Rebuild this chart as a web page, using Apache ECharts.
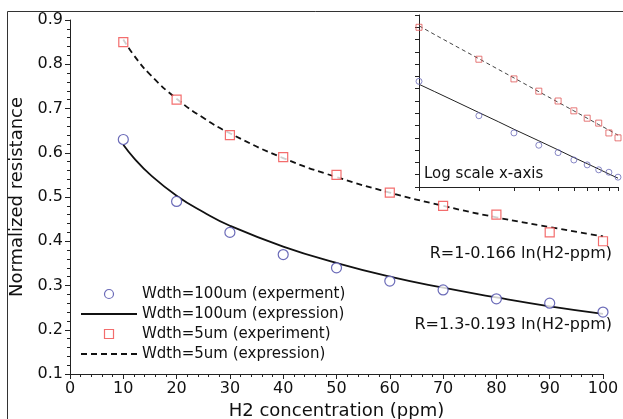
<!DOCTYPE html>
<html>
<head>
<meta charset="utf-8">
<title>Normalized resistance</title>
<script src="https://cdn.jsdelivr.net/npm/echarts@6/dist/echarts.min.js"></script>
<style>
  html, body { margin: 0; padding: 0; background: #fff; }
  #main { width: 623px; height: 419px; }
</style>
</head>
<body>
<div id="main"></div>
<script>
// measured points
var ppm = [10, 20, 30, 40, 50, 60, 70, 80, 90, 100];
var wide100 = [0.63, 0.49, 0.42, 0.37, 0.34, 0.31, 0.29, 0.27, 0.26, 0.24];
var narrow5 = [0.85, 0.72, 0.64, 0.59, 0.55, 0.51, 0.48, 0.46, 0.42, 0.40];
// fitted curves
var fitX = [10, 12, 15, 20, 25, 30, 40, 50, 60, 70, 80, 90, 100];
var fit100 = [0.618, 0.588, 0.551, 0.503, 0.466, 0.435, 0.388, 0.351, 0.320, 0.295, 0.273, 0.253, 0.236];
var fit5 = [0.856, 0.820, 0.777, 0.722, 0.679, 0.644, 0.588, 0.545, 0.510, 0.480, 0.454, 0.432, 0.411];
var insetTicks = [10, 20, 30, 40, 50, 60, 70, 80, 90, 100];

var names = ['Wdth=100um (experment)', 'Wdth=100um (expression)',
             'Wdth=5um (experiment)', 'Wdth=5um (expression)'];

function pairs(xs, ys) {
  var out = [];
  for (var i = 0; i < xs.length; i++) out.push([xs[i], ys[i]]);
  return out;
}

var font = 'DejaVu Sans';
var axisCol = '#222';
var blue = '#4646a6';
var red = '#f04848';

// legend icons: a solid bar and a dashed bar, 56 wide
var solidIcon = 'path://M0,0h56v2h-56z';
var dashIcon = 'path://M0,0h6v2h-6z M10,0h6v2h-6z M20,0h6v2h-6z M30,0h6v2h-6z M40,0h6v2h-6z M50,0h6v2h-6z';

var chart = echarts.init(document.getElementById('main'));

var option = {
  animation: false,
  textStyle: { fontFamily: font },
  grid: [
    { left: 70, right: 20, top: 20, bottom: 45, outerBoundsMode: 'none' },
    { left: 419, top: 15, width: 199, height: 172, outerBoundsMode: 'none' }
  ],
  xAxis: [{
    gridIndex: 0, type: 'value', min: 0, max: 100, interval: 10,
    name: 'H2 concentration (ppm)', nameLocation: 'middle', nameGap: 25,
    nameTextStyle: { fontSize: 18, color: '#111', fontFamily: font },
    axisLine: { lineStyle: { color: axisCol } },
    axisTick: { length: 5, lineStyle: { color: axisCol } },
    minorTick: { show: true, splitNumber: 5, length: 3, lineStyle: { color: axisCol } },
    axisLabel: { fontSize: 16, color: '#111', margin: 7, fontFamily: font },
    splitLine: { show: false }
  }, {
    gridIndex: 1, type: 'log', logBase: 10, min: 10, max: 100,
    axisLine: { onZero: false, lineStyle: { color: axisCol } },
    axisTick: { length: 4, customValues: insetTicks, lineStyle: { color: axisCol } },
    axisLabel: { show: false },
    splitLine: { show: false }
  }],
  yAxis: [{
    gridIndex: 0, type: 'value', min: 0.1, max: 0.9, interval: 0.1,
    name: 'Normalized resistance', nameLocation: 'middle', nameGap: 38,
    nameTextStyle: { fontSize: 18, color: '#111', fontFamily: font },
    axisLine: { show: true, lineStyle: { color: axisCol } },
    axisTick: { show: true, length: 5, lineStyle: { color: axisCol } },
    minorTick: { show: true, splitNumber: 5, length: 3, lineStyle: { color: axisCol } },
    axisLabel: { fontSize: 16, color: '#111', margin: 7, fontFamily: font,
                 formatter: function (v) { return v.toFixed(1); } },
    splitLine: { show: false }
  }, {
    gridIndex: 1, type: 'value', min: 0.2, max: 0.9, interval: 0.05,
    axisLine: { show: true, onZero: false, lineStyle: { color: axisCol } },
    axisTick: { show: true, length: 4, lineStyle: { color: axisCol } },
    axisLabel: { show: false },
    splitLine: { show: false }
  }],
  legend: {
    data: [
      { name: names[0], icon: 'circle',
        itemStyle: { color: '#fff', borderColor: blue, borderWidth: 1.2 } },
      { name: names[1], icon: solidIcon,
        itemStyle: { color: '#111', borderWidth: 0 } },
      { name: names[2], icon: 'path://M0,0h10v10h-10z',
        itemStyle: { color: '#fff', borderColor: red, borderWidth: 1.2 } },
      { name: names[3], icon: dashIcon,
        itemStyle: { color: '#111', borderWidth: 0 } }
    ],
    orient: 'vertical',
    left: 76, top: 281,
    itemWidth: 56, itemHeight: 9, itemGap: 4,
    symbolKeepAspect: true,
    textStyle: { fontSize: 15, lineHeight: 16, color: '#111', fontFamily: font },
    inactiveColor: '#999'
  },
  graphic: [
    { type: 'rect', silent: true, z: 100,
      shape: { x: 7.5, y: 11.5, width: 700, height: 500 },
      style: { fill: 'none', stroke: '#333', lineWidth: 1 } },
    { type: 'text', left: 424, top: 167, z: 100,
      style: { text: 'Log scale x-axis', font: '15px "DejaVu Sans"', fill: '#111' } },
    { type: 'text', right: 11, top: 246, z: 100,
      style: { text: 'R=1-0.166 ln(H2-ppm)', font: '16px "DejaVu Sans"', fill: '#111' } },
    { type: 'text', right: 11, top: 317, z: 100,
      style: { text: 'R=1.3-0.193 ln(H2-ppm)', font: '16px "DejaVu Sans"', fill: '#111' } }
  ],
  series: [
    { name: names[0], type: 'scatter', xAxisIndex: 0, yAxisIndex: 0,
      data: pairs(ppm, wide100), symbol: 'circle', symbolSize: 10, z: 5,
      itemStyle: { color: '#fff', borderColor: blue, borderWidth: 1.2 } },
    { name: names[1], type: 'line', xAxisIndex: 0, yAxisIndex: 0,
      data: pairs(fitX, fit100), smooth: true, symbol: 'none',
      lineStyle: { color: '#111', width: 1.8 }, itemStyle: { color: '#111' } },
    { name: names[2], type: 'scatter', xAxisIndex: 0, yAxisIndex: 0,
      data: pairs(ppm, narrow5), symbol: 'rect', symbolSize: 9, z: 5,
      itemStyle: { color: '#fff', borderColor: red, borderWidth: 1.2 } },
    { name: names[3], type: 'line', xAxisIndex: 0, yAxisIndex: 0,
      data: pairs(fitX, fit5), smooth: true, symbol: 'none',
      lineStyle: { color: '#111', width: 1.8, type: [6, 4] }, itemStyle: { color: '#111' } },

    // inset, log x
    { name: 'inset100', type: 'line', xAxisIndex: 1, yAxisIndex: 1,
      data: pairs(fitX, fit100), symbol: 'none',
      lineStyle: { color: '#222', width: 1 } },
    { name: 'inset5', type: 'line', xAxisIndex: 1, yAxisIndex: 1,
      data: pairs(fitX, fit5), symbol: 'none',
      lineStyle: { color: '#444', width: 1, type: [4, 3] } },
    { name: 'inset100pts', type: 'scatter', xAxisIndex: 1, yAxisIndex: 1,
      data: pairs(ppm, wide100), symbol: 'circle', symbolSize: 6, z: 5,
      itemStyle: { color: 'rgba(255,255,255,0)', borderColor: '#6a6ab8', borderWidth: 1 } },
    { name: 'inset5pts', type: 'scatter', xAxisIndex: 1, yAxisIndex: 1,
      data: pairs(ppm, narrow5), symbol: 'rect', symbolSize: 6, z: 5,
      itemStyle: { color: 'rgba(255,255,255,0)', borderColor: '#e05858', borderWidth: 1 } }
  ]
};

chart.setOption(option);
</script>
</body>
</html>
